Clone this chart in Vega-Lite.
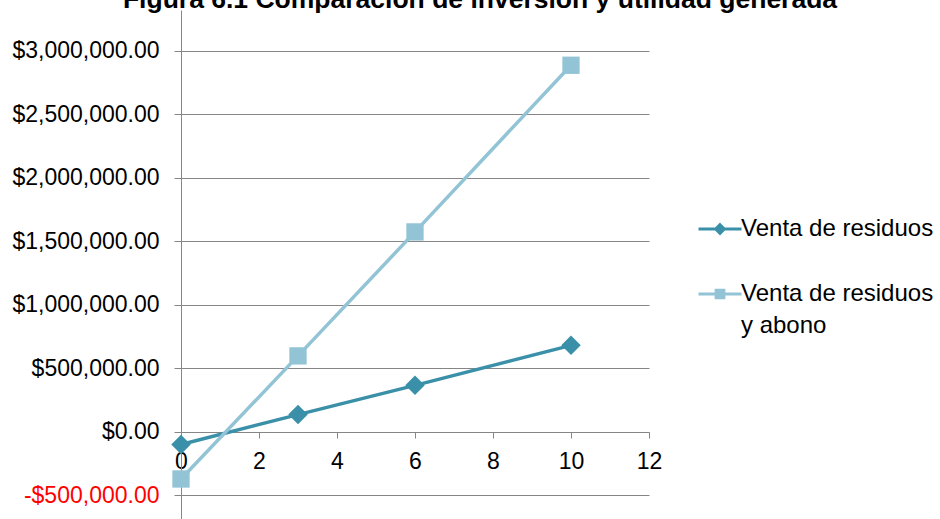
{
  "$schema": "https://vega.github.io/schema/vega-lite/v6.json",
  "width": 468,
  "height": 509,
  "autosize": {"type": "none"},
  "padding": {"left": 181, "top": 10, "right": 291, "bottom": 0},
  "background": "white",
  "title": {
    "text": "Figura 6.1 Comparación de inversión y utilidad generada",
    "font": "Liberation Sans",
    "fontSize": 26.5,
    "fontWeight": "bold",
    "color": "#000000",
    "anchor": "middle",
    "frame": "group",
    "dx": 65,
    "dy": 24,
    "offset": 0,
    "baseline": "alphabetic"
  },
  "config": {"view": {"stroke": null}, "font": "Liberation Sans"},
  "data": {
    "values": [
      {"series": "Venta de residuos", "x": 0, "y": -100000},
      {"series": "Venta de residuos", "x": 3, "y": 135000},
      {"series": "Venta de residuos", "x": 6, "y": 365000},
      {"series": "Venta de residuos", "x": 10, "y": 680000},
      {"series": "Venta de residuos y abono", "x": 0, "y": -372000},
      {"series": "Venta de residuos y abono", "x": 3, "y": 597000},
      {"series": "Venta de residuos y abono", "x": 6, "y": 1573000},
      {"series": "Venta de residuos y abono", "x": 10, "y": 2885000}
    ]
  },
  "encoding": {
    "x": {
      "field": "x",
      "type": "quantitative",
      "scale": {"domain": [0, 12], "nice": false, "zero": false},
      "axis": {
        "values": [0, 2, 4, 6, 8, 10, 12],
        "grid": false,
        "domainColor": "#868686",
        "tickColor": "#868686",
        "tickSize": 6,
        "labelFontSize": 23,
        "labelFont": "Liberation Sans",
        "labelColor": "#000000",
        "labelPadding": 12,
        "labelFlush": false,
        "labelOverlap": false,
        "offset": -87,
        "title": null
      }
    },
    "y": {
      "field": "y",
      "type": "quantitative",
      "scale": {"domain": [-687000, 3320000], "nice": false, "zero": false},
      "axis": {
        "values": [-500000, 0, 500000, 1000000, 1500000, 2000000, 2500000, 3000000],
        "grid": true,
        "gridColor": "#868686",
        "domainColor": "#868686",
        "tickColor": "#868686",
        "tickSize": 7,
        "labelPadding": 15,
        "labelFontSize": 23,
        "labelFont": "Liberation Sans",
        "labelExpr": "(datum.value < 0 ? '-' : '') + '$' + format(abs(datum.value), ',.2f')",
        "labelColor": {"condition": {"test": "datum.value < 0", "value": "#FF0000"}, "value": "#000000"},
        "title": null
      }
    },
    "color": {
      "field": "series",
      "type": "nominal",
      "scale": {
        "domain": ["Venta de residuos", "Venta de residuos y abono"],
        "range": ["#3A90A8", "#93C4D6"]
      },
      "legend": {
        "orient": "none",
        "legendX": 516,
        "legendY": 196,
        "title": null,
        "labelFontSize": 24,
        "labelFont": "Liberation Sans",
        "labelColor": "#000000",
        "labelLimit": 0,
        "labelOffset": -2,
        "rowPadding": 30,
        "labelExpr": "datum.label == 'Venta de residuos y abono' ? ['Venta de residuos', 'y abono'] : datum.label",
        "symbolSize": 1849,
        "symbolStrokeWidth": 3,
        "encode": {
          "labels": {
            "update": {
              "lineHeight": {"value": 32}
            }
          },
          "symbols": {
            "update": {
              "shape": {"signal": "datum.value === 'Venta de residuos' ? 'M-1,0H1M0,-0.2L0.2,0L0,0.2L-0.2,0Z' : 'M-1,0H1M-0.18,-0.18H0.18V0.18H-0.18Z'"},
              "fill": {"signal": "datum.value === 'Venta de residuos' ? '#3A90A8' : '#93C4D6'"},
              "stroke": {"signal": "datum.value === 'Venta de residuos' ? '#3A90A8' : '#93C4D6'"},
              "strokeWidth": {"value": 3},
              "size": {"value": 1849},
              "opacity": {"value": 1}
            }
          }
        }
      }
    }
  },
  "layer": [
    {"mark": {"type": "line", "strokeWidth": 3.5}},
    {
      "transform": [{"filter": "datum.series === 'Venta de residuos'"}],
      "mark": {"type": "point", "filled": true, "opacity": 1, "shape": "diamond", "size": 380}
    },
    {
      "transform": [{"filter": "datum.series === 'Venta de residuos y abono'"}],
      "mark": {"type": "point", "filled": true, "opacity": 1, "shape": "square", "size": 300}
    }
  ]
}
